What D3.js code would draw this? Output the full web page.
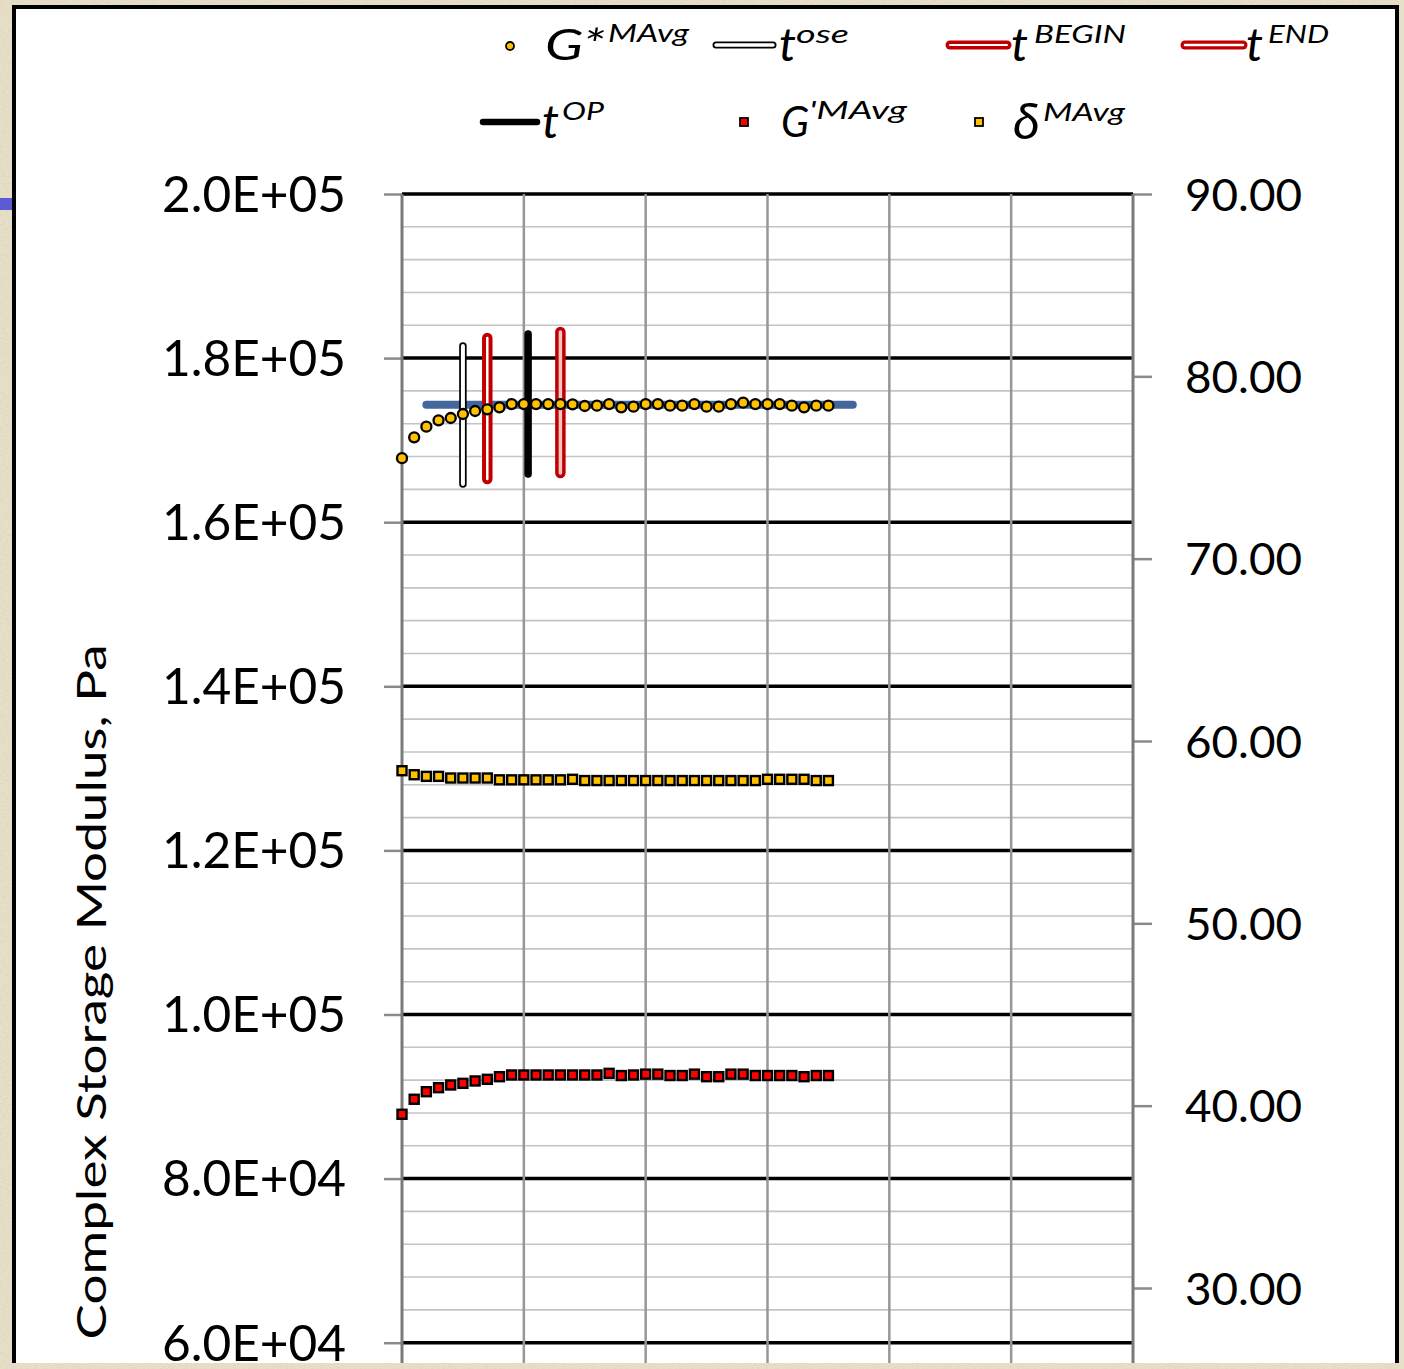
<!DOCTYPE html>
<html><head><meta charset="utf-8">
<script src="https://cdn.jsdelivr.net/npm/d3@7"></script>
<style>html,body{margin:0;padding:0;background:#e8dfc9;overflow:hidden}</style>
</head><body><svg id="c" width="1404" height="1369"></svg>
<script>
// ---------------- data ----------------
const sampleX = [0,1,2,3,4,5,6,7,8,9,10,11,12,13,14,15,16,17,18,19,20,21,22,23,24,25,26,27,28,29,30,31,32,33,34,35];
const gStarMAvg = [167800,170350,171640,172420,172700,173190,173550,173760,174000,174400,174400,174400,174400,174400,174370,174160,174200,174400,174000,174080,174400,174400,174200,174200,174400,174080,174080,174400,174570,174400,174400,174400,174200,174000,174200,174200];
const gPrimeMAvg = [87840,89670,90590,91080,91410,91610,91900,92100,92420,92630,92630,92630,92630,92630,92630,92630,92630,92830,92560,92630,92730,92730,92560,92560,92730,92420,92420,92730,92730,92560,92560,92560,92560,92420,92560,92560];
const deltaMAvg = [58.37,58.15,58.06,58.06,57.97,57.97,57.97,57.97,57.87,57.87,57.87,57.87,57.87,57.87,57.90,57.83,57.83,57.83,57.83,57.83,57.83,57.83,57.83,57.83,57.83,57.83,57.83,57.83,57.83,57.83,57.90,57.90,57.90,57.90,57.83,57.83];
const eventNames = ["ose","BEGIN","OP","END"];
const eventX = [5, 7, 10.35, 13];
const eventTop = [181470, 182450, 182940, 183180];
const eventBottom = [164650, 165260, 165870, 166000];
const avgLineX = [2, 37];
const avgLineY = [174320, 174320];
const xGridValues = [0,10,20,30,40,50,60];
const leftTickValues = [60000,80000,100000,120000,140000,160000,180000,200000];
const leftTickLabels = ["6.0E+04","8.0E+04","1.0E+05","1.2E+05","1.4E+05","1.6E+05","1.8E+05","2.0E+05"];
const rightTickValues = [30,40,50,60,70,80,90];
const rightTickLabels = ["30.00","40.00","50.00","60.00","70.00","80.00","90.00"];
const yTitle = "Complex Storage Modulus, Pa";

// ---------------- layout ----------------
const svg = d3.select("#c");
const W = 1404, H = 1369;
const pl = 402, pr = 1133, pt = 194, pb = 1835;
const x = d3.scaleLinear().domain([0, 60]).range([pl, pr]);
const yL = d3.scaleLinear().domain([0, 200000]).range([pb, pt]);
const yR = d3.scaleLinear().domain([0, 90]).range([pb, pt]);
const FONT = "Lato, 'Open Sans', sans-serif";

// background
const defs = svg.append("defs");
const f = defs.append("filter").attr("id","tex").attr("x",0).attr("y",0).attr("width","100%").attr("height","100%");
f.append("feTurbulence").attr("type","fractalNoise").attr("baseFrequency","0.35 0.9").attr("numOctaves",2).attr("seed",3);
f.append("feColorMatrix").attr("values","0 0 0 0 0.55  0 0 0 0 0.48  0 0 0 0 0.36  0 0 0 1.1 -0.45");
svg.append("rect").attr("width",W).attr("height",H).attr("fill","#e8dfc9");
svg.append("rect").attr("width",W).attr("height",H).attr("filter","url(#tex)").attr("opacity",0.5);
svg.append("rect").attr("x",0).attr("y",198).attr("width",12).attr("height",12).attr("fill","#5b5bd6");

// panel
svg.append("rect").attr("x",14).attr("y",7).attr("width",1383).attr("height",1380)
  .attr("fill","#ffffff").attr("stroke","#000").attr("stroke-width",4);

const plot = svg.append("g");

// minor horizontal grid
const minorVals = d3.range(0, 200001, 4000).filter(v => v % 20000 !== 0);
plot.append("g").selectAll("line").data(minorVals).join("line")
  .attr("x1", pl).attr("x2", pr).attr("y1", d => yL(d)).attr("y2", d => yL(d))
  .attr("stroke", "#c4c4c4").attr("stroke-width", 1.6);
// major horizontal grid
plot.append("g").selectAll("line").data(d3.range(0, 200001, 20000)).join("line")
  .attr("x1", pl).attr("x2", pr).attr("y1", d => yL(d)).attr("y2", d => yL(d))
  .attr("stroke", "#000").attr("stroke-width", 3.5);
// vertical grid
plot.append("g").selectAll("line").data(xGridValues.slice(1, -1)).join("line")
  .attr("x1", d => x(d)).attr("x2", d => x(d)).attr("y1", pt).attr("y2", pb)
  .attr("stroke", "#979797").attr("stroke-width", 2.5);

// left axis
const axL = d3.axisLeft(yL).tickValues(leftTickValues).tickFormat((d,i) => leftTickLabels[i]).tickSize(18).tickPadding(38);
const gL = svg.append("g").attr("transform", `translate(${pl},0)`).call(axL);
gL.select(".domain").remove();
gL.selectAll(".tick line").attr("stroke", "#8a8a8a").attr("stroke-width", 2.5);
gL.selectAll(".tick text").attr("font-family", FONT).attr("font-size", 51).attr("fill", "#000")
  .attr("dy", "0.34em").attr("textLength", 184).attr("lengthAdjust", "spacingAndGlyphs");
svg.append("line").attr("x1", pl).attr("x2", pl).attr("y1", pt).attr("y2", pb)
  .attr("stroke", "#7a7a7a").attr("stroke-width", 3);

// right axis
const axR = d3.axisRight(yR).tickValues(rightTickValues).tickFormat((d,i) => rightTickLabels[i]).tickSize(19).tickPadding(33);
const gR = svg.append("g").attr("transform", `translate(${pr},0)`).call(axR);
gR.select(".domain").remove();
gR.selectAll(".tick line").attr("stroke", "#8a8a8a").attr("stroke-width", 2.5);
gR.selectAll(".tick text").attr("font-family", FONT).attr("font-size", 45).attr("fill", "#000")
  .attr("dy", "0.36em").attr("textLength", 117).attr("lengthAdjust", "spacingAndGlyphs");
svg.append("line").attr("x1", pr).attr("x2", pr).attr("y1", pt).attr("y2", pb)
  .attr("stroke", "#7a7a7a").attr("stroke-width", 3);

// y title
svg.append("text").attr("transform", "translate(106,992) scale(0.86,1) rotate(-90)")
  .attr("text-anchor", "middle").attr("font-family", FONT).attr("font-size", 48).attr("fill", "#000")
  .attr("textLength", 695).attr("lengthAdjust", "spacingAndGlyphs").text(yTitle);

// ---------------- series ----------------
const series = svg.append("g");
// average line
series.append("path")
  .attr("d", d3.line().x(d => x(d[0])).y(d => yL(d[1]))(avgLineX.map((v,i) => [v, avgLineY[i]])))
  .attr("stroke", "#41679c").attr("stroke-width", 8).attr("stroke-linecap", "round").attr("fill", "none");

// event bars
const evStyle = {
  ose:   {outer:"#000", ow:7.5, inner:"#fff", iw:4},
  BEGIN: {outer:"#c00000", ow:10.5, inner:"#fff", iw:2.5},
  OP:    {outer:"#000", ow:7.5, inner:null, iw:0},
  END:   {outer:"#c00000", ow:10.5, inner:"#f4c6c6", iw:3.5}
};
eventNames.forEach((n, i) => {
  const st = evStyle[n];
  const seg = [[eventX[i], eventTop[i]], [eventX[i], eventBottom[i]]];
  const dd = d3.line().x(d => x(d[0])).y(d => yL(d[1]))(seg);
  series.append("path").attr("d", dd).attr("stroke", st.outer).attr("stroke-width", st.ow)
    .attr("stroke-linecap", "round").attr("fill", "none");
  if (st.inner) series.append("path").attr("d", dd).attr("stroke", st.inner).attr("stroke-width", st.iw)
    .attr("stroke-linecap", "round").attr("fill", "none");
});

// delta squares (right axis)
const sq = 9;
series.append("g").selectAll("rect").data(sampleX).join("rect")
  .attr("x", (d,i) => x(d) - sq/2).attr("y", (d,i) => yR(deltaMAvg[i]) - sq/2)
  .attr("width", sq).attr("height", sq).attr("fill", "#ffc000").attr("stroke", "#000").attr("stroke-width", 2.4);
// G' squares
series.append("g").selectAll("rect").data(sampleX).join("rect")
  .attr("x", (d,i) => x(d) - sq/2).attr("y", (d,i) => yL(gPrimeMAvg[i]) - sq/2)
  .attr("width", sq).attr("height", sq).attr("fill", "#ff0000").attr("stroke", "#000").attr("stroke-width", 2.4);
// G* dots
series.append("g").selectAll("circle").data(sampleX).join("circle")
  .attr("cx", d => x(d)).attr("cy", (d,i) => yL(gStarMAvg[i])).attr("r", 5)
  .attr("fill", "#ffc000").attr("stroke", "#000").attr("stroke-width", 2.3);

// ---------------- legend ----------------
const lg = svg.append("g").attr("font-family", FONT).attr("font-style", "italic").attr("fill", "#000");
function label(base, bx, by, bw, bs, sup, sx, sw) {
  lg.append("text").attr("x", bx).attr("y", by).attr("font-size", bs).attr("textLength", bw)
    .attr("lengthAdjust", "spacingAndGlyphs").text(base);
  lg.append("text").attr("x", sx).attr("y", by - 18).attr("font-size", 25).attr("textLength", sw)
    .attr("lengthAdjust", "spacingAndGlyphs").text(sup);
}
function legLine(x1, x2, y, st) {
  lg.append("line").attr("x1", x1).attr("x2", x2).attr("y1", y).attr("y2", y)
    .attr("stroke", st.outer).attr("stroke-width", st.lw).attr("stroke-linecap", "round");
  if (st.inner) lg.append("line").attr("x1", x1).attr("x2", x2).attr("y1", y).attr("y2", y)
    .attr("stroke", st.inner).attr("stroke-width", st.liw).attr("stroke-linecap", "round");
}
// row 1
lg.append("circle").attr("cx", 510).attr("cy", 46).attr("r", 4).attr("fill", "#ffc000").attr("stroke", "#000").attr("stroke-width", 1.8);
label("G*", 545, 60, 60, 42, "MAvg", 608, 81);
legLine(716, 773, 45, {outer:"#000", lw:7, inner:"#fff", liw:3.5});
label("t", 779, 61, 17, 47, eventNames[0], 796, 53);
legLine(950, 1007, 45, {outer:"#c00000", lw:9, inner:"#fff", liw:2});
label("t", 1011, 61, 17, 47, eventNames[1], 1034, 92);
legLine(1185, 1243, 45, {outer:"#c00000", lw:9, inner:"#fff", liw:2.5});
label("t", 1246, 61, 17, 47, eventNames[3], 1268, 61);
// row 2
legLine(483, 537, 122, {outer:"#000", lw:6.5});
label("t", 542, 138, 17, 47, eventNames[2], 562, 42);
lg.append("rect").attr("x", 740).attr("y", 118).attr("width", 8).attr("height", 8).attr("fill", "#ff0000").attr("stroke", "#000").attr("stroke-width", 1.8);
label("G", 781, 137, 28, 42, "'MAvg", 809, 98);
lg.append("rect").attr("x", 975).attr("y", 118).attr("width", 8).attr("height", 8).attr("fill", "#ffc000").attr("stroke", "#000").attr("stroke-width", 1.8);
label("δ", 1013, 139, 27, 50, "MAvg", 1043, 82);

// bottom crop strip
svg.append("rect").attr("x", 0).attr("y", 1363).attr("width", W).attr("height", 6).attr("fill", "#e8dfc9");
svg.append("rect").attr("x", 0).attr("y", 1363).attr("width", W).attr("height", 6).attr("filter", "url(#tex)").attr("opacity", 0.5);
svg.append("rect").attr("x", 1399).attr("y", 0).attr("width", 5).attr("height", H).attr("fill", "#e8dfc9");
</script></body></html>
